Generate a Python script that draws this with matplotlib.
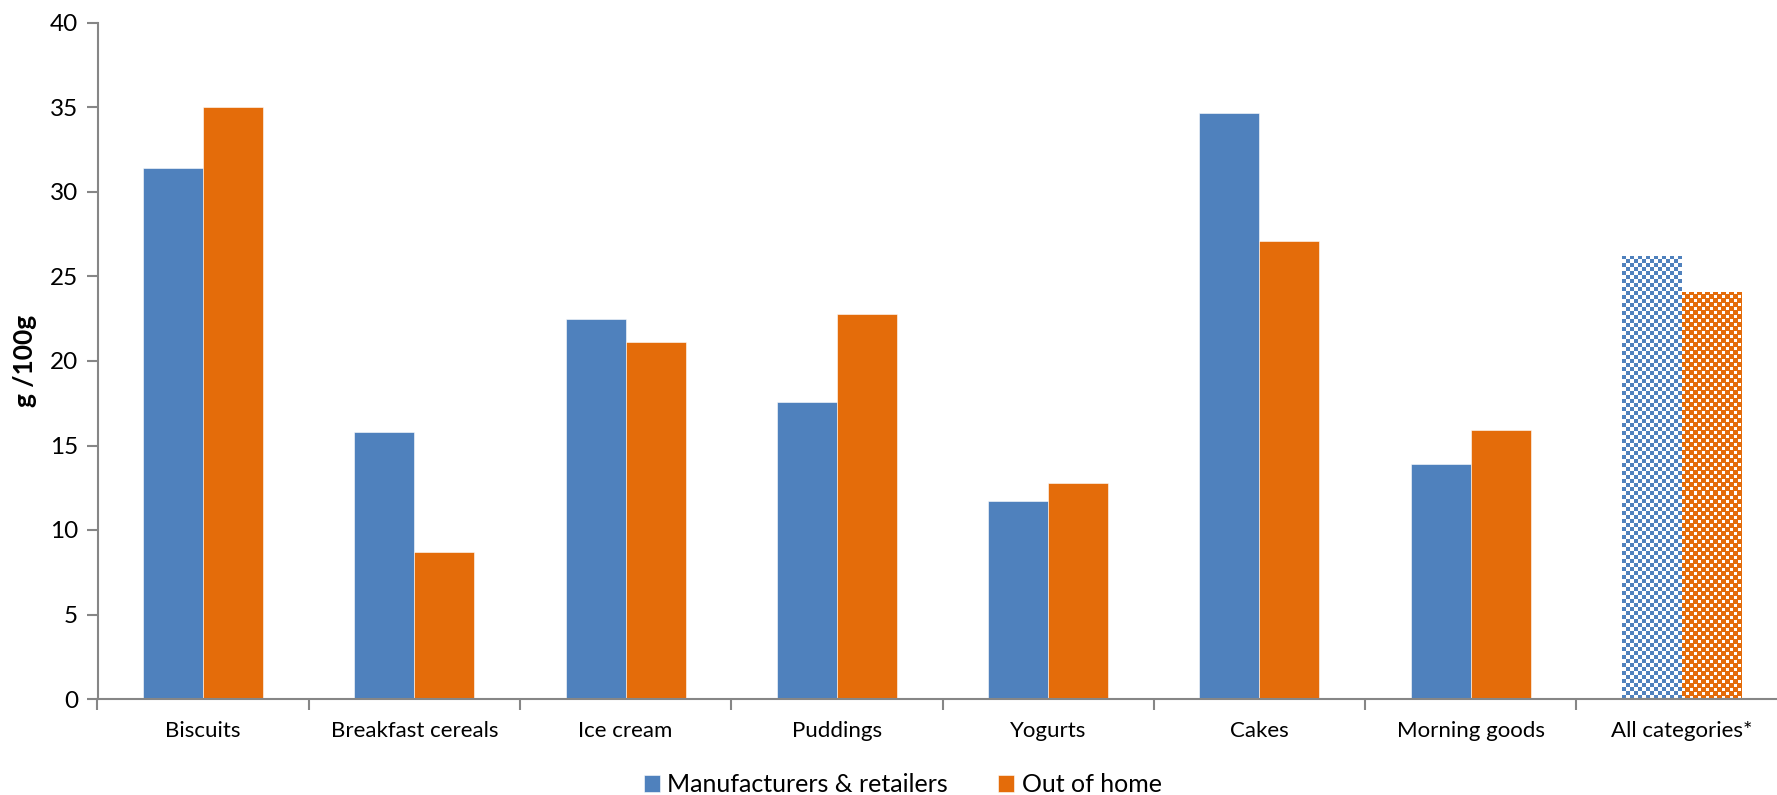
import numpy as np
import matplotlib
import matplotlib.pyplot as plt

categories = ['Biscuits', 'Breakfast cereals', 'Ice cream', 'Puddings', 'Yogurts',
              'Cakes', 'Morning goods', 'All categories*']
manufacturers = [31.4, 15.8, 22.5, 17.6, 11.7, 34.7, 13.9, 26.2]
out_of_home = [35.0, 8.7, 21.1, 22.8, 12.8, 27.1, 15.9, 24.1]

blue = '#4F81BD'
orange = '#E46C0A'
grey = '#868686'

plt.rcParams['font.family'] = ['Lato', 'DejaVu Sans']

fig = plt.figure(figsize=(17.77, 7.95), dpi=100)
# the axis runs a little past the right edge, as in the original crop
ax = fig.add_axes([97.5 / 1777, 96 / 795, 1690 / 1777, 676 / 795])

x = np.arange(len(categories))
w = 0.284
b1 = ax.bar(x - w / 2, manufacturers, w, color=blue, edgecolor='white', linewidth=0.4,
            label='Manufacturers & retailers', zorder=2)
b2 = ax.bar(x + w / 2, out_of_home, w, color=orange, edgecolor='white', linewidth=0.4,
            label='Out of home', zorder=2)
ax.set_xlim(-0.5, len(categories) - 0.5)
ax.set_ylim(0, 40)


def texture(patch, kind, color):
    # fill a bar with a pixel pattern instead of a solid colour
    x0, y0 = patch.get_x(), patch.get_y()
    x1, y1 = x0 + patch.get_width(), y0 + patch.get_height()
    (px0, py0), (px1, py1) = ax.transData.transform([(x0, y0), (x1, y1)])
    nx, ny = int(round(px1 - px0)), int(round(py1 - py0))
    i, j = np.meshgrid(np.arange(ny), np.arange(nx), indexing='ij')
    if kind == 'check':
        coloured = (i // 4 + j // 4) % 2 == 0
    else:
        white = ((i // 4 + j // 4) % 2 == 0) & (i % 4 != 3) & (j % 4 != 3)
        coloured = ~white
    img = np.ones((ny, nx, 3))
    img[coloured] = matplotlib.colors.to_rgb(color)
    im = ax.imshow(img, extent=(x0, x1, y0, y1), origin='lower',
                   interpolation='nearest', aspect='auto', zorder=2)
    im.set_clip_path(patch)
    patch.set_facecolor('none')
    patch.set_edgecolor('none')


texture(b1[-1], 'check', blue)
texture(b2[-1], 'lattice', orange)
ax.set_xlim(-0.5, len(categories) - 0.5)
ax.set_ylim(0, 40)

# spines and ticks
for s in ['top', 'right']:
    ax.spines[s].set_visible(False)
for s in ['left', 'bottom']:
    ax.spines[s].set_color(grey)
    ax.spines[s].set_linewidth(1.5)

ax.set_yticks(np.arange(0, 41, 5))
ax.tick_params(axis='y', length=8, width=1.5, color=grey, labelsize=17.5, pad=6)
ax.set_xticks(np.arange(-0.5, len(categories) + 0.5, 1))
ax.set_xticklabels([])
ax.tick_params(axis='x', which='major', length=8, width=1.5, color=grey)
ax.set_xticks(x, minor=True)
ax.set_xticklabels(categories, minor=True)
ax.tick_params(axis='x', which='minor', length=0, labelsize=16, pad=16)

ax.set_ylabel('g /100g', fontsize=19, fontweight='bold')
ax.yaxis.set_label_coords(-0.036, 0.5)

fig.legend(handles=[b1[0], b2[0]], labels=['Manufacturers & retailers', 'Out of home'],
           loc='lower center', bbox_to_anchor=(0.508, -0.03), ncol=2, frameon=False,
           fontsize=18, handlelength=0.65, handleheight=0.65, handletextpad=0.3,
           columnspacing=2.0)

fig.savefig('out.png', dpi=100)
